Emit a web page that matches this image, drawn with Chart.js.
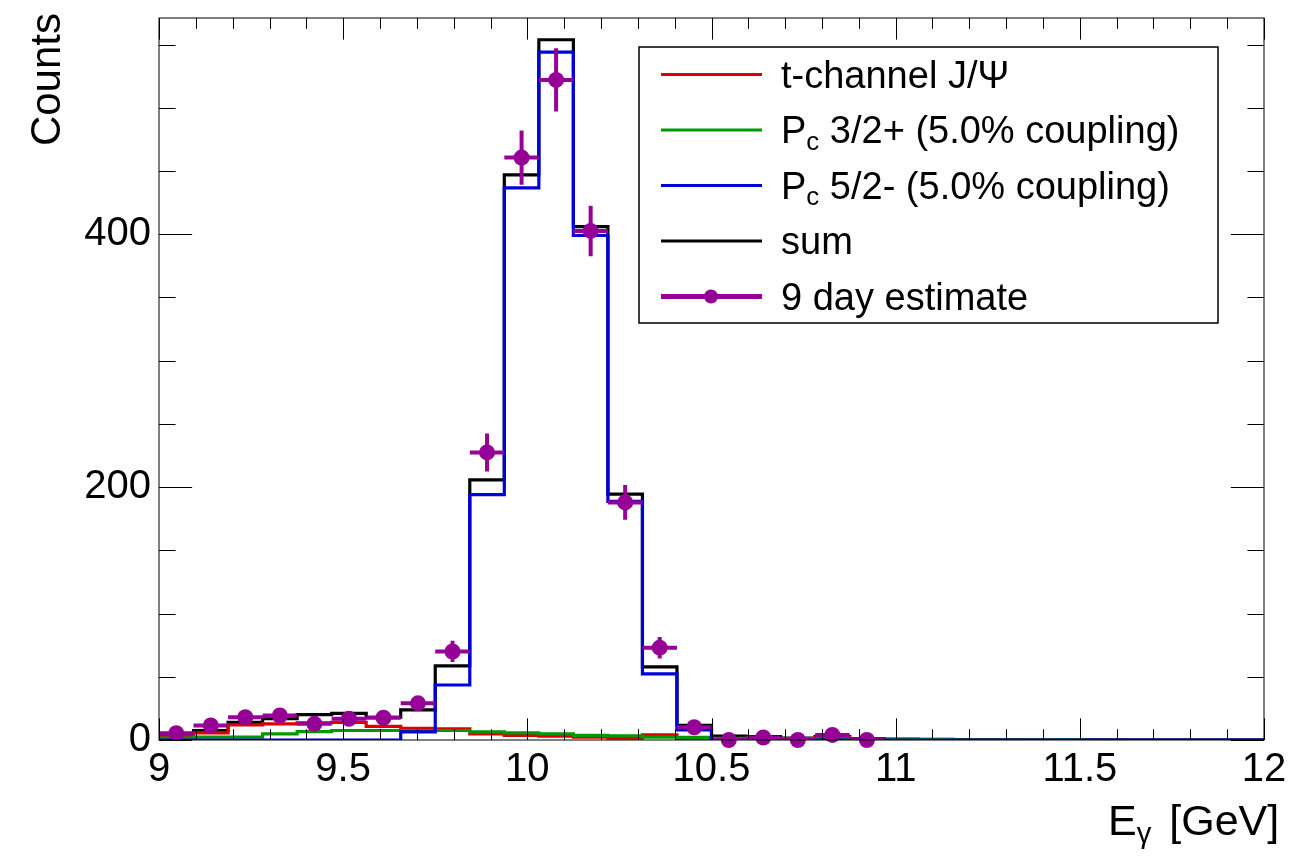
<!DOCTYPE html>
<html lang="en">
<head>
    <meta charset="UTF-8">
    <title>E_gamma spectrum</title>
    <script src="https://cdn.jsdelivr.net/npm/chart.js"></script>
    <style>
        body { margin: 0; background: #fff; }
    </style>
</head>
<body>
    <canvas id="histChart" width="1311" height="860"></canvas>

    <script>
        // bin edges (GeV), 32 bins from 9 to 12
        const binEdges = [9.0, 9.09375, 9.1875, 9.28125, 9.375, 9.46875, 9.5625, 9.65625,
            9.75, 9.84375, 9.9375, 10.03125, 10.125, 10.21875, 10.3125, 10.40625,
            10.5, 10.59375, 10.6875, 10.78125, 10.875, 10.96875, 11.0625, 11.15625,
            11.25, 11.34375, 11.4375, 11.53125, 11.625, 11.71875, 11.8125, 11.90625, 12.0];

        const tChannel = [3.5, 5.7, 12, 12.8, 13.6, 14, 10.7, 9.3, 8.8, 4.9, 3.6, 3, 2.2, 1.5, 4.1, 1.2,
            1.0, 1.2, 0.8, 1.8, 0.7, 0.4, 0.2, 0.2, 0.1, 0.1, 0, 0, 0, 0, 0, 0];
        const pc32plus = [1.5, 2.2, 2.2, 4.9, 6.7, 7.5, 7.5, 7.5, 7.5, 6.5, 5.7, 4.8, 3.6, 3.2, 2.3, 2.0,
            1.3, 1.1, 0.9, 0.7, 0.5, 0.4, 0.3, 0.2, 0.2, 0.1, 0.1, 0, 0, 0, 0, 0];
        const pc52minus = [0, 0, 0, 0, 0, 0, 0, 6.5, 43.5, 194, 436.6, 544, 399, 188.7, 52.3, 8,
            0.2, 0.1, 0, 0, 0, 0, 0, 0, 0, 0, 0, 0, 0, 0, 0, 0];
        const sumHist = [5.1, 7.5, 14, 16.8, 20, 21, 18, 23.9, 58.7, 205.7, 447, 553.8, 406, 194.5, 57.9, 11.5,
            3, 2.6, 1.6, 2.7, 1.2, 0.8, 0.5, 0.4, 0.3, 0.2, 0.2, 0.1, 0, 0, 0, 0];

        // 9 day estimate (only first 21 bins are filled)
        const estimate = [5.4, 11.5, 18, 19.4, 12.8, 16.8, 17.6, 29, 70, 227.4, 460.6, 522, 402.6, 187.9, 73, 10.1,
            0, 2, 0, 4, 0];
        const estimateErr = [2.3, 3.4, 4.2, 4.4, 3.6, 4.1, 4.2, 5.4, 8.4, 15, 21.5, 25, 20, 13.7, 8.5, 3.2,
            0, 1.4, 0, 2, 0];

        const xTickVals = [9, 9.5, 10, 10.5, 11, 11.5, 12];
        const yTickVals = [0, 200, 400];

        const colRed = '#dd0000', colGreen = '#009900', colBlue = '#0000dd', colPurple = '#960096';
        const fontFamily = '"Liberation Sans", Arial, Helvetica, sans-serif';

        // histogram outline: one point per bin low edge plus the last upper edge
        function histPoints(vals) {
            const pts = vals.map((v, i) => ({ x: binEdges[i], y: v }));
            pts.push({ x: binEdges[vals.length], y: vals[vals.length - 1] });
            return pts;
        }
        function centers() {
            return estimate.map((v, i) => ({ x: (binEdges[i] + binEdges[i + 1]) / 2, y: v }));
        }
        function errYPoints() {
            const pts = [];
            estimate.forEach((v, i) => {
                const c = (binEdges[i] + binEdges[i + 1]) / 2;
                pts.push({ x: c, y: v - estimateErr[i] }, { x: c, y: v + estimateErr[i] }, { x: c, y: null });
            });
            return pts;
        }
        function errXPoints() {
            const pts = [];
            estimate.forEach((v, i) => {
                pts.push({ x: binEdges[i], y: v }, { x: binEdges[i + 1], y: v }, { x: binEdges[i + 1], y: null });
            });
            return pts;
        }

        function histSet(label, vals, color, order) {
            return {
                label: label, data: histPoints(vals), borderColor: color, borderWidth: 3.2,
                stepped: 'before', pointRadius: 0, fill: false, order: order
            };
        }

        // draw a string made of normal / subscript parts
        function drawRich(ctx, parts, x, y, size) {
            let cx = x;
            parts.forEach(p => {
                const s = p.sub ? size * 0.68 : size;
                ctx.font = s + 'px ' + fontFamily;
                ctx.fillText(p.t, cx, y + (p.sub ? size * 0.18 : 0));
                cx += ctx.measureText(p.t).width + (p.gap || 0);
            });
            return cx - x;
        }

        const legendItems = [
            { parts: [{ t: 't-channel J/\u03A8' }], color: colRed },
            { parts: [{ t: 'P' }, { t: 'c', sub: true }, { t: ' 3/2+ (5.0% coupling)' }], color: colGreen },
            { parts: [{ t: 'P' }, { t: 'c', sub: true }, { t: ' 5/2- (5.0% coupling)' }], color: colBlue },
            { parts: [{ t: 'sum' }], color: '#000' },
            { parts: [{ t: '9 day estimate' }], color: colPurple, marker: true }
        ];

        // ROOT-like frame, inner ticks, titles and legend
        const rootDecor = {
            id: 'rootDecor',
            afterDraw(chart) {
                const { ctx, chartArea: a, scales: { x, y } } = chart;
                const w = a.right - a.left, h = a.bottom - a.top;
                ctx.save();
                ctx.strokeStyle = '#000';
                ctx.lineWidth = 1;
                ctx.strokeRect(a.left, a.top, w, h);

                ctx.beginPath();
                for (let i = 0; i <= 30; i++) {
                    const px = Math.round(x.getPixelForValue(9 + i * 0.1)) + 0.5;
                    const len = (i % 5 === 0 ? 0.03 : 0.015) * h;
                    ctx.moveTo(px, a.bottom); ctx.lineTo(px, a.bottom - len);
                    ctx.moveTo(px, a.top); ctx.lineTo(px, a.top + len);
                }
                for (let i = 0; i * 50 <= y.max; i++) {
                    const py = Math.round(y.getPixelForValue(i * 50)) + 0.5;
                    const len = (i % 4 === 0 ? 0.03 : 0.015) * w;
                    ctx.moveTo(a.left, py); ctx.lineTo(a.left + len, py);
                    ctx.moveTo(a.right, py); ctx.lineTo(a.right - len, py);
                }
                ctx.stroke();

                // axis titles
                ctx.fillStyle = '#000';
                ctx.textBaseline = 'alphabetic';
                ctx.textAlign = 'left';
                drawRich(ctx, [{ t: 'E' }, { t: '\u03B3', sub: true, gap: 6 }, { t: ' [GeV]' }], 1108, 835, 43);

                ctx.save();
                ctx.translate(60, 13);
                ctx.rotate(-Math.PI / 2);
                ctx.textAlign = 'right';
                ctx.font = '42px ' + fontFamily;
                ctx.fillText('Counts', 0, 0);
                ctx.restore();

                // legend
                const lx = 639, ly = 47, lw = 579, lh = 276;
                ctx.fillStyle = '#fff';
                ctx.fillRect(lx, ly, lw, lh);
                ctx.lineWidth = 1.5;
                ctx.strokeRect(lx, ly, lw, lh);
                legendItems.forEach((it, i) => {
                    const rowY = 74.5 + i * 55.5;
                    ctx.strokeStyle = it.color;
                    ctx.lineWidth = it.marker ? 5 : 3;
                    ctx.beginPath();
                    ctx.moveTo(661, rowY); ctx.lineTo(762, rowY);
                    ctx.stroke();
                    if (it.marker) {
                        ctx.fillStyle = it.color;
                        ctx.beginPath();
                        ctx.arc(711, rowY, 7, 0, Math.PI * 2);
                        ctx.fill();
                    }
                    ctx.fillStyle = '#000';
                    ctx.textAlign = 'left';
                    drawRich(ctx, it.parts, 781, rowY + 13, 38);
                });
                ctx.restore();
            }
        };

        const ctxHist = document.getElementById('histChart').getContext('2d');
        const histChart = new Chart(ctxHist, {
            type: 'line',
            data: {
                datasets: [
                    {
                        label: '9 day estimate', data: centers(), showLine: false,
                        pointRadius: 8, pointHoverRadius: 8, pointBackgroundColor: colPurple,
                        pointBorderWidth: 0, borderColor: colPurple, clip: false, order: 0
                    },
                    {
                        label: 'errY', data: errYPoints(), borderColor: colPurple, borderWidth: 4,
                        pointRadius: 0, spanGaps: false, order: 1
                    },
                    {
                        label: 'errX', data: errXPoints(), borderColor: colPurple, borderWidth: 4,
                        pointRadius: 0, spanGaps: false, order: 1
                    },
                    histSet('Pc 5/2-', pc52minus, colBlue, 2),
                    histSet('Pc 3/2+', pc32plus, colGreen, 3),
                    histSet('t-channel', tChannel, colRed, 4),
                    histSet('sum', sumHist, '#000', 5)
                ]
            },
            options: {
                responsive: false,
                animation: false,
                events: [],
                layout: { padding: { top: 18, right: 47, left: 0, bottom: 0 } },
                plugins: { legend: { display: false }, tooltip: { enabled: false } },
                scales: {
                    x: {
                        type: 'linear', min: 9, max: 12,
                        grid: { display: false, drawTicks: false },
                        border: { display: false },
                        afterBuildTicks: s => { s.ticks = xTickVals.map(v => ({ value: v })); },
                        afterFit: s => { s.height = 120; s.paddingLeft = 0; s.paddingRight = 0; },
                        ticks: {
                            padding: 6, color: '#000', maxRotation: 0, autoSkip: false,
                            font: { family: fontFamily, size: 40 },
                            callback: v => String(v)
                        }
                    },
                    y: {
                        type: 'linear', min: 0, max: 571,
                        grid: { display: false, drawTicks: false },
                        border: { display: false },
                        afterBuildTicks: s => { s.ticks = yTickVals.map(v => ({ value: v })); },
                        afterFit: s => { s.width = 159; s.paddingTop = 0; s.paddingBottom = 0; },
                        ticks: {
                            padding: 8, color: '#000',
                            font: { family: fontFamily, size: 40 },
                            callback: v => String(v)
                        }
                    }
                }
            },
            plugins: [rootDecor]
        });
    </script>
</body>
</html>
